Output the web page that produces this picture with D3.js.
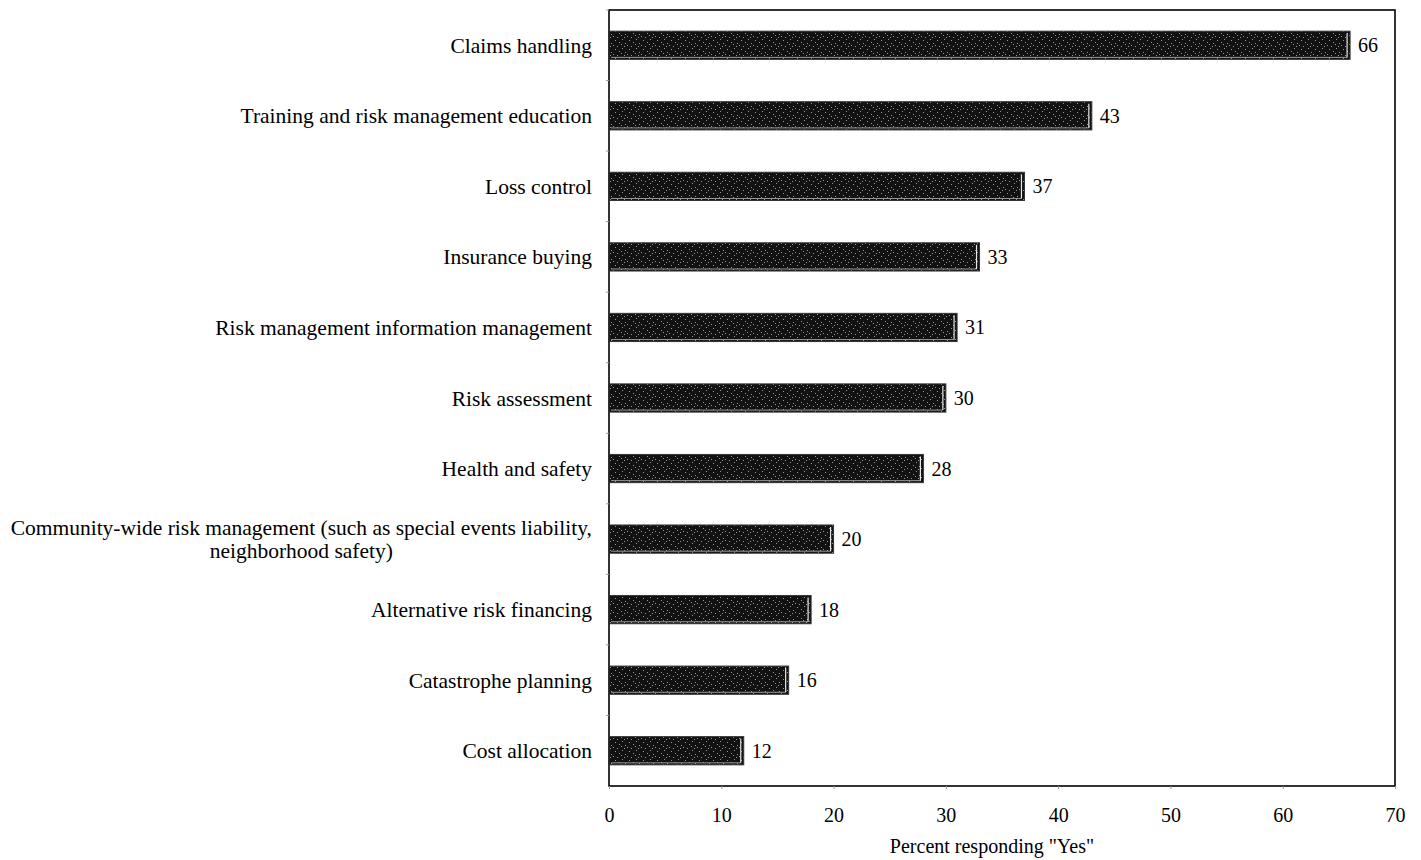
<!DOCTYPE html>
<html>
<head>
<meta charset="utf-8">
<script src="https://cdn.jsdelivr.net/npm/d3@7"></script>
<style>
  html, body { margin: 0; padding: 0; background: #fff; }
  svg { display: block; font-family: "Liberation Serif", "Times New Roman", serif; }
</style>
</head>
<body>
<svg id="chart" width="1421" height="860"></svg>
<script>
// Survey categories, top to bottom
const categories = [
  "Claims handling",
  "Training and risk management education",
  "Loss control",
  "Insurance buying",
  "Risk management information management",
  "Risk assessment",
  "Health and safety",
  "Community-wide risk management (such as special events liability,|neighborhood safety)",
  "Alternative risk financing",
  "Catastrophe planning",
  "Cost allocation"
];
// Percent responding "Yes"
const values = [66, 43, 37, 33, 31, 30, 28, 20, 18, 16, 12];
const xTicks = [0, 10, 20, 30, 40, 50, 60, 70];
const xTitle = 'Percent responding "Yes"';

const svg = d3.select("#chart");
const margin = { left: 609, right: 26, top: 10, bottom: 74 };
const W = 1421, H = 860;
const labelSize = 21.5;

const x = d3.scaleLinear().domain([0, 70]).range([margin.left, W - margin.right]);
const y = d3.scaleBand().domain(categories).range([margin.top, H - margin.bottom]).paddingInner(0.6).paddingOuter(0.3);

// Speckled dark fill for the bars
const defs = svg.append("defs");
const pat = defs.append("pattern").attr("id", "speckle").attr("patternUnits", "userSpaceOnUse")
  .attr("width", 14).attr("height", 9);
pat.append("rect").attr("width", 14).attr("height", 9).attr("fill", "#121212");
[[1,1],[6,3],[11,0],[3,6],[9,7],[13,4],[5,8],[8,1]].forEach(([px, py]) => {
  pat.append("rect").attr("x", px).attr("y", py).attr("width", 1).attr("height", 1).attr("fill", "#9a9a9a");
});

// Frame
svg.append("rect")
  .attr("x", x(0)).attr("y", margin.top)
  .attr("width", x(70) - x(0)).attr("height", H - margin.bottom - margin.top)
  .attr("fill", "none").attr("stroke", "#000").attr("stroke-width", 1.6);

// Bars
const bars = svg.append("g");
categories.forEach((c, i) => {
  const y0 = y(c), bh = y.bandwidth(), x1 = x(values[i]);
  bars.append("rect")
    .attr("x", x(0)).attr("y", y0).attr("width", x1 - x(0)).attr("height", bh)
    .attr("fill", "url(#speckle)").attr("stroke", "#333").attr("stroke-width", 1);
  // light inner edge along the bottom and right end
  bars.append("line").attr("x1", x(0) + 2).attr("x2", x1 - 3).attr("y1", y0 + bh - 2).attr("y2", y0 + bh - 2)
    .attr("stroke", "#9a9a9a").attr("stroke-width", 1);
  bars.append("line").attr("x1", x1 - 3).attr("x2", x1 - 3).attr("y1", y0 + 2).attr("y2", y0 + bh - 2)
    .attr("stroke", "#e8e8e8").attr("stroke-width", 1.2);
  svg.append("text")
    .attr("x", x1 + 8).attr("y", y0 + bh / 2).attr("dy", "0.35em")
    .attr("font-size", 20).attr("fill", "#000").text(values[i]);
});

// Category labels
categories.forEach(c => {
  const lines = c.split("|");
  const cy = y(c) + y.bandwidth() / 2;
  const t = svg.append("text").attr("text-anchor", "end").attr("font-size", labelSize).attr("fill", "#000");
  lines.forEach((ln, k) => {
    t.append("tspan")
      .attr("x", 592)
      .attr("y", cy + (k - (lines.length - 1) / 2) * 23)
      .attr("dy", "0.35em")
      .attr("text-anchor", lines.length > 1 && k > 0 ? "middle" : "end")
      .text(ln);
  });
  if (lines.length > 1) {
    // centre the second line under the first
    const first = t.select("tspan").node();
    const w = first.getComputedTextLength();
    t.selectAll("tspan").filter((d, k) => k > 0).attr("x", 592 - w / 2);
  }
});

// Bottom axis tick labels
const xAxis = d3.axisBottom(x).tickValues(xTicks).tickSize(3).tickPadding(19);
const gx = svg.append("g").attr("transform", `translate(0,${H - margin.bottom})`).call(xAxis);
gx.select(".domain").remove();
gx.selectAll("line").attr("stroke", "#999");
gx.selectAll("text").attr("font-size", 20).attr("fill", "#000").attr("font-family", "Liberation Serif, serif");

// Small ticks on the left axis between bars
const yTicks = svg.append("g");
categories.forEach(c => {
  const yy = y(c) - (y.step() - y.bandwidth()) / 2;
  yTicks.append("line").attr("x1", x(0) - 3).attr("x2", x(0)).attr("y1", yy).attr("y2", yy).attr("stroke", "#999");
});

// Axis title
svg.append("text")
  .attr("x", (x(0) + x(70)) / 2 - 10).attr("y", 853)
  .attr("text-anchor", "middle").attr("font-size", 20).attr("fill", "#000")
  .text(xTitle);
</script>
</body>
</html>
